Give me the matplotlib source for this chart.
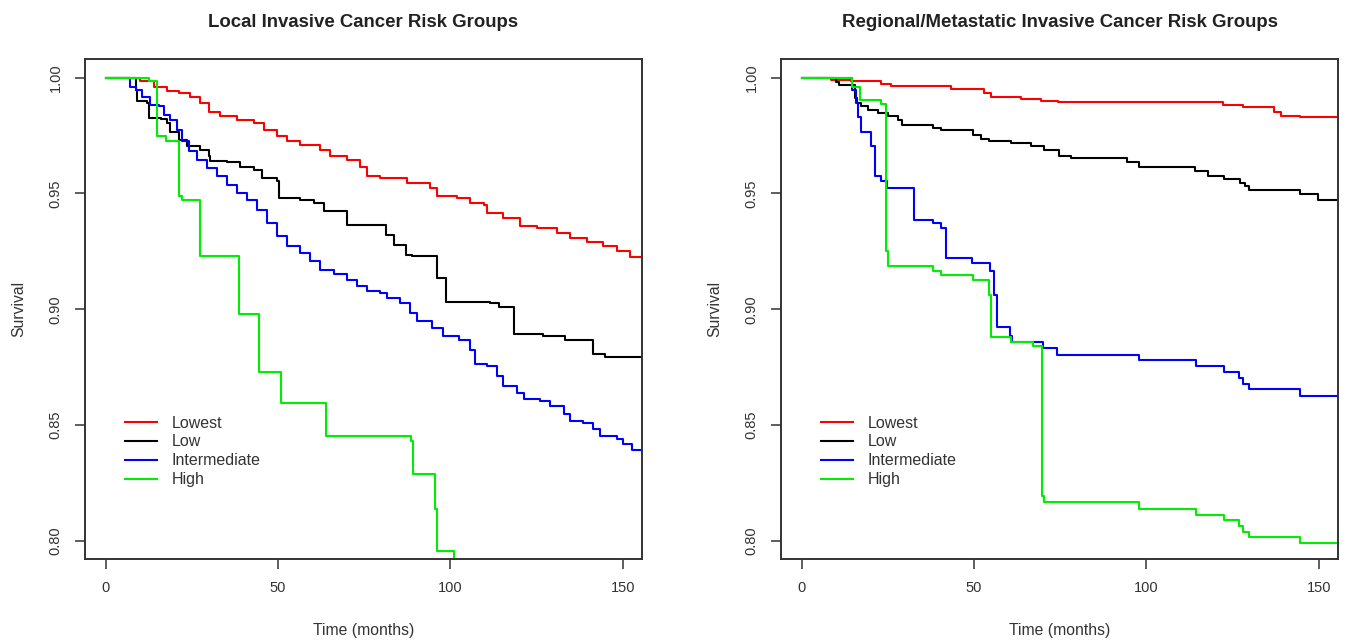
import matplotlib.pyplot as plt
import numpy as np

plt.rcParams['font.family'] = ['Liberation Sans', 'DejaVu Sans']

# ---- Local invasive (left panel) ----
loc_lowest_t = [0, 6.8, 10.1, 14, 17.9, 21.2, 24.6, 27.5, 29.9, 33.3, 38.2, 42.9, 45.9, 49.8,
                52.7, 56.5, 62.3, 65.2, 70, 73.9, 75.8, 79.7, 84.5, 87.4, 94.2, 96.1, 101.9,
                105.8, 109.7, 110.6, 115.4, 120.3, 125.1, 130.9, 134.8, 139.6, 144.4, 148.3,
                152.2, 155.6]
loc_lowest_s = [1.0, 1.0, 0.9983, 0.9961, 0.9944, 0.9933, 0.9918, 0.989, 0.9853, 0.9832,
                0.9818, 0.9803, 0.9775, 0.9746, 0.9724, 0.971, 0.9688, 0.966, 0.9645, 0.9616,
                0.9573, 0.9568, 0.9568, 0.9545, 0.9523, 0.949, 0.948, 0.9459, 0.9451, 0.9416,
                0.9394, 0.9358, 0.9351, 0.9329, 0.9308, 0.9289, 0.9272, 0.925, 0.9226, 0.9226]

loc_low_t = [0, 6.8, 8.7, 9.2, 12, 12.5, 16, 17.9, 18.8, 21.3, 23.7, 27.5, 29.9, 30.4, 35.3,
             39.1, 43, 45.4, 49.8, 50.2, 56.5, 60.4, 63.3, 70, 81.2, 83.6, 87, 88.9, 96.1,
             98.6, 111.6, 114, 118.4, 127, 133.3, 141.5, 144.9, 155.6]
loc_low_s = [1.0, 1.0, 0.9947, 0.9897, 0.989, 0.9825, 0.982, 0.9803, 0.9767, 0.9731, 0.9703,
             0.9688, 0.9662, 0.9638, 0.9634, 0.9616, 0.9602, 0.9566, 0.9552, 0.948, 0.9473,
             0.9459, 0.9422, 0.9365, 0.9322, 0.9279, 0.9236, 0.9228, 0.9135, 0.9032, 0.9029,
             0.9009, 0.8891, 0.8884, 0.8869, 0.8805, 0.8795, 0.8795]

loc_int_t = [0, 6.8, 7.2, 8.7, 10.6, 13, 15.5, 16.9, 18.8, 20.8, 22.2, 24.2, 26.6, 29.5, 32.4,
             35.3, 38.2, 41.1, 44, 46.9, 49.8, 52.7, 56.5, 59.4, 62.3, 66.2, 70, 73, 75.8,
             79.7, 81.6, 85.5, 88.4, 90.3, 94.7, 98, 102.4, 105.8, 107.2, 110.6, 113.5, 115.4,
             119.3, 121.3, 126.1, 129, 132.9, 134.8, 138.6, 141.5, 143.5, 148.3, 150.2, 152.6,
             155.6]
loc_int_s = [1.0, 1.0, 0.9961, 0.9947, 0.9918, 0.9882, 0.9875, 0.9839, 0.9818, 0.9775, 0.9724,
             0.9681, 0.9645, 0.961, 0.9573, 0.9538, 0.9502, 0.9473, 0.943, 0.9372, 0.9315,
             0.9272, 0.9243, 0.9207, 0.9171, 0.915, 0.9128, 0.9099, 0.9078, 0.9071, 0.9049,
             0.9028, 0.8984, 0.8948, 0.892, 0.8884, 0.8869, 0.8826, 0.8762, 0.8754, 0.8711,
             0.8668, 0.864, 0.8611, 0.8603, 0.8582, 0.8546, 0.8517, 0.851, 0.8481, 0.8453,
             0.8438, 0.8417, 0.8392, 0.8392]

loc_high_t = [0, 12.6, 15, 17.4, 21.2, 22.2, 27.5, 38.6, 44.4, 51, 64, 88.7, 89.2, 95.4, 96.1,
              101.2]
loc_high_s = [1.0, 0.9986, 0.9749, 0.9728, 0.9487, 0.9473, 0.9228, 0.898, 0.8728, 0.8594,
              0.8453, 0.8431, 0.8288, 0.8137, 0.7956, 0.77]

# ---- Regional/metastatic (right panel) ----
reg_lowest_t = [0, 8.4, 14.2, 23, 26, 43.3, 53, 55, 63.7, 69.5, 74.3, 122.3, 128, 137, 139,
                144.5, 155.6]
reg_lowest_s = [1.0, 0.999, 0.9983, 0.9971, 0.9964, 0.995, 0.9935, 0.9915, 0.9907, 0.990,
                0.9894, 0.9882, 0.9872, 0.9853, 0.9835, 0.9829, 0.9829]

reg_low_t = [0, 8.4, 10, 10.8, 15.5, 16, 17.2, 19.2, 22, 24.9, 27.8, 29, 38, 40.4, 49.6, 52,
             54.4, 60.8, 66.6, 70.4, 74.7, 78.2, 94.5, 98, 114.2, 118, 122.6, 127.3, 128.5,
             129.7, 144.5, 149.7, 155.6]
reg_low_s = [1.0, 1.0, 0.998, 0.9969, 0.9912, 0.989, 0.9875, 0.986, 0.9846, 0.9832, 0.9818,
             0.9796, 0.9782, 0.9772, 0.975, 0.9736, 0.9727, 0.9717, 0.9703, 0.9688, 0.966,
             0.9652, 0.9634, 0.9614, 0.9595, 0.9573, 0.9562, 0.9545, 0.953, 0.9516, 0.9497,
             0.9473, 0.9473]

reg_int_t = [0, 14.7, 15.7, 16.2, 17.2, 20, 21.3, 23, 24.7, 32.6, 38, 40.4, 41.9, 49.4, 54.5,
             55.9, 56.7, 60.4, 61, 70, 74, 97.9, 114.3, 122.4, 127, 128, 129.7, 144.5, 155.6]
reg_int_s = [1.0, 0.9947, 0.989, 0.983, 0.9767, 0.9703, 0.9573, 0.9552, 0.9525, 0.9387,
             0.9374, 0.935, 0.9219, 0.920, 0.9164, 0.9063, 0.8925, 0.8884, 0.8858, 0.8834,
             0.8802, 0.8779, 0.8754, 0.873, 0.8704, 0.8678, 0.8654, 0.8625, 0.8625]

reg_high_t = [0, 14.7, 17, 23, 24.4, 25, 38, 40.4, 49.6, 54.4, 55, 60.8, 67, 69.8, 70.4,
              97.9, 114.3, 122.4, 127, 128, 129.7, 144.5, 155.6]
reg_high_s = [1.0, 0.9961, 0.9904, 0.9887, 0.925, 0.9185, 0.9164, 0.9147, 0.9128, 0.9063,
              0.8878, 0.8858, 0.884, 0.8194, 0.8166, 0.8137, 0.8112, 0.809, 0.8065, 0.804,
              0.8017, 0.799, 0.799]

groups = ['Lowest', 'Low', 'Intermediate', 'High']
colors = ['#ff0000', '#000000', '#0000ff', '#00ee00']
titles = ['Local Invasive Cancer Risk Groups', 'Regional/Metastatic Invasive Cancer Risk Groups']

panels = [
    [(loc_lowest_t, loc_lowest_s), (loc_low_t, loc_low_s), (loc_int_t, loc_int_s),
     (loc_high_t, loc_high_s)],
    [(reg_lowest_t, reg_lowest_s), (reg_low_t, reg_low_s), (reg_int_t, reg_int_s),
     (reg_high_t, reg_high_s)],
]

fig = plt.figure(figsize=(13.5, 6.42), dpi=100)
lefts = [85 / 1350, 781 / 1350]
dark = '#333333'

for i in range(2):
    ax = fig.add_axes([lefts[i], 83 / 642, 557 / 1350, 500 / 642])
    for (t, s), c, g in zip(panels[i], colors, groups):
        ax.step(t, s, where='post', color=c, lw=1.5, label=g)
    ax.set_xlim(-6, 155.6)
    ax.set_ylim(0.7922, 1.008)
    ax.set_xticks([0, 50, 100, 150])
    ax.set_yticks([0.80, 0.85, 0.90, 0.95, 1.00])
    ax.set_yticklabels(['0.80', '0.85', '0.90', '0.95', '1.00'], rotation=90, va='center')
    ax.tick_params(direction='out', length=7, width=1.1, colors=dark, labelsize=10.5, pad=9)
    for sp in ax.spines.values():
        sp.set_color(dark)
        sp.set_linewidth(1.4)
    ax.set_title(titles[i], fontsize=13.4, fontweight='bold', color='#222222', pad=23)
    ax.set_xlabel('Time (months)', fontsize=11.3, color=dark, labelpad=20)
    ax.set_ylabel('Survival', fontsize=11.3, color=dark, labelpad=16)
    leg = ax.legend(loc='upper left', bbox_to_anchor=(0.072, 0.287), frameon=False,
                    fontsize=11.5, handlelength=2.0, handletextpad=0.9, labelspacing=0.25,
                    borderpad=0, borderaxespad=0)
    for txt in leg.get_texts():
        txt.set_color(dark)

fig.savefig('out.png', dpi=100)
